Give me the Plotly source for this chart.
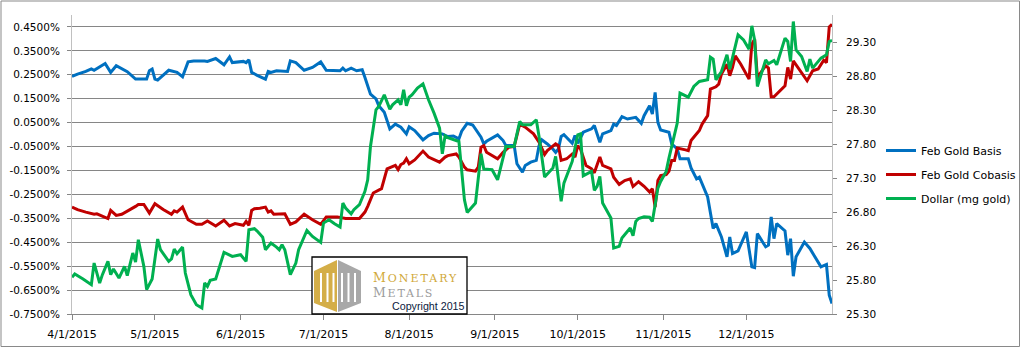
import plotly.graph_objects as go

# ---------------------------------------------------------------- data
basis_dates = [
    "2015-04-01", "2015-04-03", "2015-04-06", "2015-04-08", "2015-04-09", "2015-04-11", "2015-04-13",
    "2015-04-15", "2015-04-17", "2015-04-21", "2015-04-24", "2015-04-28", "2015-04-29", "2015-04-30",
    "2015-05-01", "2015-05-02", "2015-05-06", "2015-05-09", "2015-05-11", "2015-05-13", "2015-05-15",
    "2015-05-19", "2015-05-20", "2015-05-23", "2015-05-26", "2015-05-28", "2015-05-29", "2015-06-02",
    "2015-06-03", "2015-06-04", "2015-06-05", "2015-06-07", "2015-06-10", "2015-06-11", "2015-06-12",
    "2015-06-14", "2015-06-18", "2015-06-19", "2015-06-21", "2015-06-24", "2015-06-27", "2015-06-30",
    "2015-07-02", "2015-07-07", "2015-07-08", "2015-07-09", "2015-07-11", "2015-07-13", "2015-07-15",
    "2015-07-16", "2015-07-18", "2015-07-20", "2015-07-21", "2015-07-23", "2015-07-25", "2015-07-27",
    "2015-07-29", "2015-07-31", "2015-08-01", "2015-08-03", "2015-08-06", "2015-08-08", "2015-08-10",
    "2015-08-13", "2015-08-15", "2015-08-17", "2015-08-19", "2015-08-20", "2015-08-22", "2015-08-24",
    "2015-08-25", "2015-08-27", "2015-08-28", "2015-08-29", "2015-09-02", "2015-09-04", "2015-09-05",
    "2015-09-08", "2015-09-09", "2015-09-11", "2015-09-12", "2015-09-14", "2015-09-16", "2015-09-17",
    "2015-09-18", "2015-09-20", "2015-09-22", "2015-09-23", "2015-09-24", "2015-09-25", "2015-09-26",
    "2015-09-29", "2015-09-30", "2015-10-01", "2015-10-03", "2015-10-06", "2015-10-07", "2015-10-09",
    "2015-10-10", "2015-10-13", "2015-10-14", "2015-10-15", "2015-10-17", "2015-10-19", "2015-10-22",
    "2015-10-24", "2015-10-25", "2015-10-27", "2015-10-28", "2015-10-29", "2015-10-30", "2015-10-31",
    "2015-11-03", "2015-11-04", "2015-11-06", "2015-11-07", "2015-11-10", "2015-11-11", "2015-11-13",
    "2015-11-14", "2015-11-17", "2015-11-19", "2015-11-20", "2015-11-22", "2015-11-24", "2015-11-25",
    "2015-11-26", "2015-11-28", "2015-12-01", "2015-12-03", "2015-12-04", "2015-12-05", "2015-12-08",
    "2015-12-09", "2015-12-10", "2015-12-11", "2015-12-12", "2015-12-15", "2015-12-16", "2015-12-17",
    "2015-12-18", "2015-12-19", "2015-12-22", "2015-12-24", "2015-12-28", "2015-12-30", "2015-12-31",
    "2016-01-01",
]
basis_pct = [
    0.243, 0.253, 0.264, 0.275, 0.269, 0.283, 0.297,
    0.260, 0.288, 0.263, 0.232, 0.232, 0.267, 0.274,
    0.232, 0.228, 0.269, 0.260, 0.242, 0.304, 0.308,
    0.308, 0.306, 0.318, 0.292, 0.325, 0.301, 0.306,
    0.301, 0.313, 0.260, 0.248, 0.232, 0.264, 0.260,
    0.267, 0.264, 0.308, 0.301, 0.269, 0.281, 0.304,
    0.269, 0.267, 0.278, 0.267, 0.278, 0.267, 0.271,
    0.239, 0.169, 0.149, 0.121, 0.093, 0.024, 0.044,
    0.031, 0.003, 0.033, 0.017, -0.022, -0.004, 0.006,
    0.003, -0.008, -0.006, -0.018, 0.014, 0.047, 0.040,
    0.024, -0.011, -0.039, -0.028, -0.001, -0.025, -0.046,
    -0.046, -0.122, -0.157, -0.129, -0.115, -0.108, -0.046,
    -0.022, -0.039, -0.060, -0.074, -0.060, -0.008, 0.000,
    -0.036, -0.004, -0.036, 0.010, 0.024, 0.038, -0.032,
    0.003, 0.017, 0.044, 0.038, 0.075, 0.065, 0.072,
    0.047, 0.079, 0.121, 0.086, 0.176, 0.051, 0.019,
    0.010, -0.039, -0.060, -0.101, -0.101, -0.139, -0.185,
    -0.178, -0.261, -0.393, -0.372, -0.428, -0.511, -0.428,
    -0.497, -0.486, -0.407, -0.553, -0.556, -0.414, -0.469,
    -0.462, -0.344, -0.435, -0.372, -0.403, -0.504, -0.435,
    -0.592, -0.511, -0.449, -0.476, -0.553, -0.543, -0.671,
    -0.706,
]

cobasis_dates = [
    "2015-04-01", "2015-04-03", "2015-04-06", "2015-04-09", "2015-04-10", "2015-04-14", "2015-04-15",
    "2015-04-17", "2015-04-19", "2015-04-21", "2015-04-24", "2015-04-25", "2015-04-27", "2015-04-29",
    "2015-05-01", "2015-05-04", "2015-05-07", "2015-05-08", "2015-05-09", "2015-05-11", "2015-05-13",
    "2015-05-16", "2015-05-18", "2015-05-20", "2015-05-23", "2015-05-26", "2015-05-28", "2015-05-30",
    "2015-06-02", "2015-06-03", "2015-06-04", "2015-06-05", "2015-06-06", "2015-06-08", "2015-06-10",
    "2015-06-11", "2015-06-12", "2015-06-13", "2015-06-17", "2015-06-19", "2015-06-21", "2015-06-24",
    "2015-06-27", "2015-06-30", "2015-07-02", "2015-07-06", "2015-07-09", "2015-07-14", "2015-07-16",
    "2015-07-17", "2015-07-19", "2015-07-22", "2015-07-24", "2015-07-27", "2015-07-28", "2015-07-29",
    "2015-07-30", "2015-07-31", "2015-08-01", "2015-08-03", "2015-08-06", "2015-08-08", "2015-08-12",
    "2015-08-14", "2015-08-15", "2015-08-18", "2015-08-19", "2015-08-21", "2015-08-22", "2015-08-25",
    "2015-08-26", "2015-08-27", "2015-08-28", "2015-08-29", "2015-09-02", "2015-09-04", "2015-09-06",
    "2015-09-08", "2015-09-10", "2015-09-12", "2015-09-14", "2015-09-15", "2015-09-17", "2015-09-19",
    "2015-09-20", "2015-09-23", "2015-09-24", "2015-09-25", "2015-09-27", "2015-09-29", "2015-09-30",
    "2015-10-01", "2015-10-02", "2015-10-04", "2015-10-06", "2015-10-07", "2015-10-09", "2015-10-10",
    "2015-10-13", "2015-10-14", "2015-10-16", "2015-10-18", "2015-10-20", "2015-10-21", "2015-10-23",
    "2015-10-25", "2015-10-27", "2015-10-28", "2015-10-29", "2015-10-30", "2015-10-31", "2015-11-02",
    "2015-11-03", "2015-11-04", "2015-11-05", "2015-11-06", "2015-11-09", "2015-11-10", "2015-11-11",
    "2015-11-13", "2015-11-14", "2015-11-15", "2015-11-17", "2015-11-18", "2015-11-20", "2015-11-21",
    "2015-11-22", "2015-11-24", "2015-11-25", "2015-11-26", "2015-11-27", "2015-11-29", "2015-12-02",
    "2015-12-03", "2015-12-04", "2015-12-05", "2015-12-08", "2015-12-09", "2015-12-10", "2015-12-11",
    "2015-12-15", "2015-12-16", "2015-12-17", "2015-12-18", "2015-12-20", "2015-12-23", "2015-12-25",
    "2015-12-27", "2015-12-29", "2015-12-30", "2015-12-31", "2016-01-01",
]
cobasis_pct = [
    -0.303, -0.314, -0.324, -0.333, -0.331, -0.351, -0.317,
    -0.338, -0.333, -0.321, -0.300, -0.292, -0.292, -0.328,
    -0.289, -0.313, -0.333, -0.319, -0.324, -0.303, -0.356,
    -0.375, -0.375, -0.361, -0.382, -0.358, -0.382, -0.372,
    -0.379, -0.363, -0.379, -0.317, -0.310, -0.308, -0.303,
    -0.324, -0.319, -0.333, -0.331, -0.375, -0.365, -0.333,
    -0.356, -0.375, -0.344, -0.344, -0.351, -0.351, -0.324,
    -0.300, -0.244, -0.226, -0.143, -0.129, -0.146, -0.125,
    -0.119, -0.101, -0.122, -0.106, -0.069, -0.094, -0.115,
    -0.094, -0.088, -0.081, -0.094, -0.136, -0.147, -0.153,
    -0.136, -0.053, -0.046, -0.074, -0.101, -0.074, -0.053,
    -0.049, 0.044, 0.031, 0.010, 0.003, -0.032, -0.083,
    -0.067, -0.039, -0.046, -0.108, -0.101, -0.081, -0.094,
    -0.046, -0.060, -0.129, -0.143, -0.160, -0.094, -0.129,
    -0.143, -0.178, -0.208, -0.192, -0.185, -0.217, -0.197,
    -0.216, -0.240, -0.226, -0.303, -0.192, -0.171, -0.167,
    -0.153, -0.108, -0.108, -0.056, -0.064, -0.067, -0.025,
    0.003, 0.017, 0.044, 0.079, 0.190, 0.200, 0.211,
    0.253, 0.294, 0.246, 0.281, 0.329, 0.294, 0.232,
    0.378, 0.399, 0.239, 0.288, 0.278, 0.158, 0.158,
    0.204, 0.281, 0.232, 0.308, 0.274, 0.225, 0.267,
    0.274, 0.311, 0.301, 0.450, 0.461,
]

dollar_dates = [
    "2015-04-01", "2015-04-02", "2015-04-05", "2015-04-08", "2015-04-09", "2015-04-11", "2015-04-12",
    "2015-04-14", "2015-04-15", "2015-04-16", "2015-04-18", "2015-04-20", "2015-04-21", "2015-04-23",
    "2015-04-24", "2015-04-25", "2015-04-27", "2015-04-28", "2015-04-30", "2015-05-02", "2015-05-03",
    "2015-05-06", "2015-05-07", "2015-05-08", "2015-05-09", "2015-05-11", "2015-05-12", "2015-05-14",
    "2015-05-16", "2015-05-18", "2015-05-19", "2015-05-20", "2015-05-21", "2015-05-23", "2015-05-26",
    "2015-05-29", "2015-06-01", "2015-06-03", "2015-06-04", "2015-06-06", "2015-06-07", "2015-06-09",
    "2015-06-10", "2015-06-12", "2015-06-14", "2015-06-15", "2015-06-16", "2015-06-17", "2015-06-19",
    "2015-06-21", "2015-06-22", "2015-06-24", "2015-06-25", "2015-06-27", "2015-06-30", "2015-07-01",
    "2015-07-03", "2015-07-05", "2015-07-07", "2015-07-08", "2015-07-09", "2015-07-11", "2015-07-12",
    "2015-07-14", "2015-07-16", "2015-07-17", "2015-07-18", "2015-07-20", "2015-07-21", "2015-07-23",
    "2015-07-25", "2015-07-26", "2015-07-28", "2015-07-29", "2015-07-30", "2015-07-31", "2015-08-01",
    "2015-08-02", "2015-08-04", "2015-08-06", "2015-08-08", "2015-08-10", "2015-08-12", "2015-08-13",
    "2015-08-14", "2015-08-15", "2015-08-17", "2015-08-19", "2015-08-21", "2015-08-22", "2015-08-25",
    "2015-08-27", "2015-08-28", "2015-08-31", "2015-09-02", "2015-09-04", "2015-09-05", "2015-09-08",
    "2015-09-10", "2015-09-11", "2015-09-14", "2015-09-16", "2015-09-17", "2015-09-19", "2015-09-22",
    "2015-09-23", "2015-09-25", "2015-09-26", "2015-09-29", "2015-10-01", "2015-10-02", "2015-10-03",
    "2015-10-06", "2015-10-07", "2015-10-08", "2015-10-09", "2015-10-10", "2015-10-13", "2015-10-14",
    "2015-10-16", "2015-10-17", "2015-10-20", "2015-10-21", "2015-10-22", "2015-10-23", "2015-10-25",
    "2015-10-27", "2015-10-28", "2015-10-30", "2015-10-31", "2015-11-02", "2015-11-03", "2015-11-05",
    "2015-11-06", "2015-11-07", "2015-11-10", "2015-11-12", "2015-11-14", "2015-11-17", "2015-11-18",
    "2015-11-19", "2015-11-20", "2015-11-22", "2015-11-24", "2015-11-25", "2015-11-28", "2015-11-30",
    "2015-12-02", "2015-12-03", "2015-12-04", "2015-12-05", "2015-12-07", "2015-12-08", "2015-12-09",
    "2015-12-11", "2015-12-12", "2015-12-15", "2015-12-16", "2015-12-17", "2015-12-18", "2015-12-19",
    "2015-12-21", "2015-12-23", "2015-12-24", "2015-12-25", "2015-12-28", "2015-12-30", "2015-12-31",
    "2016-01-01",
]
dollar_mg = [
    25.839, 25.888, 25.815, 25.731, 26.050, 25.756, 25.879,
    26.075, 25.879, 25.962, 25.829, 26.001, 25.864, 26.197,
    26.065, 26.393, 26.001, 25.658, 25.815, 26.403, 26.246,
    26.075, 26.109, 26.256, 26.187, 26.285, 25.903, 25.585,
    25.437, 25.388, 25.756, 25.707, 25.795, 25.815, 26.207,
    26.148, 26.173, 26.075, 26.540, 26.555, 26.520, 26.430,
    26.246, 26.344, 26.285, 26.246, 26.320, 26.246, 25.879,
    26.050, 26.246, 26.442, 26.530, 26.442, 26.354, 26.638,
    26.687, 26.628, 26.579, 26.932, 26.859, 26.775, 26.834,
    26.908, 27.104, 27.275, 27.766, 28.305, 28.354, 28.525,
    28.315, 28.378, 28.452, 28.378, 28.599, 28.364, 28.491,
    28.525, 28.624, 28.687, 28.452, 28.256, 28.035, 27.658,
    27.923, 27.895, 27.864, 27.839, 26.981, 26.795, 26.932,
    27.658, 27.432, 27.423, 27.275, 27.619, 27.766, 27.766,
    28.133, 28.084, 28.084, 28.158, 27.913, 27.315, 27.447,
    27.619, 26.957, 27.226, 27.545, 27.937, 27.952, 27.334,
    27.398, 27.119, 27.178, 27.325, 26.932, 26.712, 26.271,
    26.295, 26.418, 26.565, 26.452, 26.663, 26.705, 26.730,
    26.726, 26.663, 27.153, 27.251, 27.398, 27.594, 27.913,
    28.109, 28.550, 28.491, 28.648, 28.722, 28.746, 29.079,
    29.050, 28.746, 28.869, 29.114, 28.903, 29.408, 29.334,
    29.197, 29.540, 29.334, 28.648, 28.893, 29.040, 28.981,
    29.030, 28.967, 29.359, 29.310, 29.016, 29.604, 29.187,
    29.089, 28.869, 29.050, 28.918, 29.065, 29.114, 29.310,
    29.325,
]

month_ticks = ["2015-04-01", "2015-05-01", "2015-06-01", "2015-07-01", "2015-08-01",
               "2015-09-01", "2015-10-01", "2015-11-01", "2015-12-01"]
month_labels = ["4/1/2015", "5/1/2015", "6/1/2015", "7/1/2015", "8/1/2015",
                "9/1/2015", "10/1/2015", "11/1/2015", "12/1/2015"]

pct_ticks = [-0.75, -0.65, -0.55, -0.45, -0.35, -0.25, -0.15, -0.05, 0.05, 0.15, 0.25, 0.35, 0.45]
pct_labels = [f"{v:.4f}%" for v in pct_ticks]

# ---------------------------------------------------------------- geometry
W, H = 1025, 348
ML, MR, MT, MB = 72, 193, 15, 34
PW, PH = W - ML - MR, H - MT - MB


def fx(xp):
    """pixel column -> paper x"""
    return (xp - ML) / PW


def fy(yp):
    """pixel row -> paper y"""
    return (H - MB - yp) / PH


def poly(points):
    return "M " + " L ".join(f"{fx(a):.5f},{fy(b):.5f}" for a, b in points) + " Z"


FONT = "DejaVu Sans"
GRID = "#868686"

fig = go.Figure()
fig.add_trace(go.Scatter(x=basis_dates, y=basis_pct, name="Feb Gold Basis", mode="lines",
                         line=dict(color="#0070C0", width=3), legendgroup="basis"))
fig.add_trace(go.Scatter(x=cobasis_dates, y=cobasis_pct, name="Feb Gold Cobasis", mode="lines",
                         line=dict(color="#C00000", width=3), legendgroup="cobasis"))
fig.add_trace(go.Scatter(x=dollar_dates, y=dollar_mg, name="Dollar (mg gold)", mode="lines",
                         line=dict(color="#00B050", width=3), legendgroup="dollar", yaxis="y2"))

# ---------------------------------------------------------------- logo
shapes = [
    # outer chart frame
    dict(type="rect", xref="paper", yref="paper", x0=fx(1), x1=fx(1019.5), y0=fy(346.5), y1=fy(1),
         line=dict(color="#898989", width=1), fillcolor="rgba(0,0,0,0)", layer="above"),
    # logo box
    dict(type="rect", xref="paper", yref="paper", x0=fx(312), x1=fx(467), y0=fy(314), y1=fy(257),
         line=dict(color="#000000", width=1.3), fillcolor="#ffffff", layer="above"),
    # icon halves
    dict(type="path", xref="paper", yref="paper", layer="above", line=dict(width=0),
         fillcolor="#d4ae48",
         path=poly([(337, 260), (314, 271), (314, 303), (337, 312)])),
    dict(type="path", xref="paper", yref="paper", layer="above", line=dict(width=0),
         fillcolor="#a8a8a8",
         path=poly([(338, 260), (361, 271), (361, 303), (338, 312)])),
]
for x0 in (320, 326.5, 332.5, 341, 347.5, 354):
    shapes.append(dict(type="rect", xref="paper", yref="paper", layer="above", line=dict(width=0),
                       fillcolor="#ffffff", x0=fx(x0), x1=fx(x0 + 2), y0=fy(302), y1=fy(273)))

annotations = [
    dict(xref="paper", yref="paper", x=fx(371), y=fy(277), xanchor="left", yanchor="middle",
         showarrow=False,
         text="<span style='letter-spacing:2px'><span style='font-size:12.5px'>M</span>ONETARY</span>",
         font=dict(family="DejaVu Serif", size=11, color="#d1a93a")),
    dict(xref="paper", yref="paper", x=fx(371), y=fy(292.8), xanchor="left", yanchor="middle",
         showarrow=False,
         text="<span style='letter-spacing:1.8px'><span style='font-size:12.5px'>M</span>ETALS</span>",
         font=dict(family="DejaVu Serif", size=11, color="#9c9c9c")),
    dict(xref="paper", yref="paper", x=fx(390), y=fy(306), xanchor="left", yanchor="middle",
         showarrow=False, text="Copyright 2015",
         font=dict(family="Liberation Sans", size=10.7, color="#0b1a40")),
]

fig.update_layout(
    width=W, height=H,
    margin=dict(l=ML, r=MR, t=MT, b=MB, autoexpand=False),
    paper_bgcolor="#ffffff", plot_bgcolor="#ffffff",
    font=dict(family=FONT, size=11, color="#000000"),
    showlegend=True,
    legend=dict(x=fx(881), y=fy(136), xanchor="left", yanchor="top",
                font=dict(family=FONT, size=11, color="#000000"),
                tracegroupgap=5, traceorder="grouped", itemwidth=30,
                bgcolor="rgba(0,0,0,0)"),
    xaxis=dict(type="date", range=["2015-04-01", "2016-01-01"],
               tickmode="array", tickvals=month_ticks, ticktext=month_labels,
               ticks="outside", ticklen=5, tickcolor=GRID, showline=True, linecolor=GRID,
               ticklabelstandoff=5,
               showgrid=False, zeroline=False, tickfont=dict(family=FONT, size=11)),
    yaxis=dict(range=[-0.75, 0.50], tickmode="array", tickvals=pct_ticks, ticktext=pct_labels,
               showgrid=True, gridcolor=GRID, gridwidth=1, zeroline=False,
               showline=True, linecolor="#c0c0c0", ticks="outside", ticklen=4, tickcolor=GRID,
               ticklabelstandoff=5,
               tickfont=dict(family=FONT, size=10.5)),
    yaxis2=dict(overlaying="y", side="right", range=[25.30, 29.70], tick0=25.30, dtick=0.5,
                tickformat=".2f", showgrid=False, zeroline=False,
                showline=True, linecolor="#c0c0c0", ticks="outside", ticklen=4, tickcolor=GRID,
                ticklabelstandoff=7,
                tickfont=dict(family=FONT, size=10.5)),
    shapes=shapes,
    annotations=annotations,
)

fig.write_html("out.html")
